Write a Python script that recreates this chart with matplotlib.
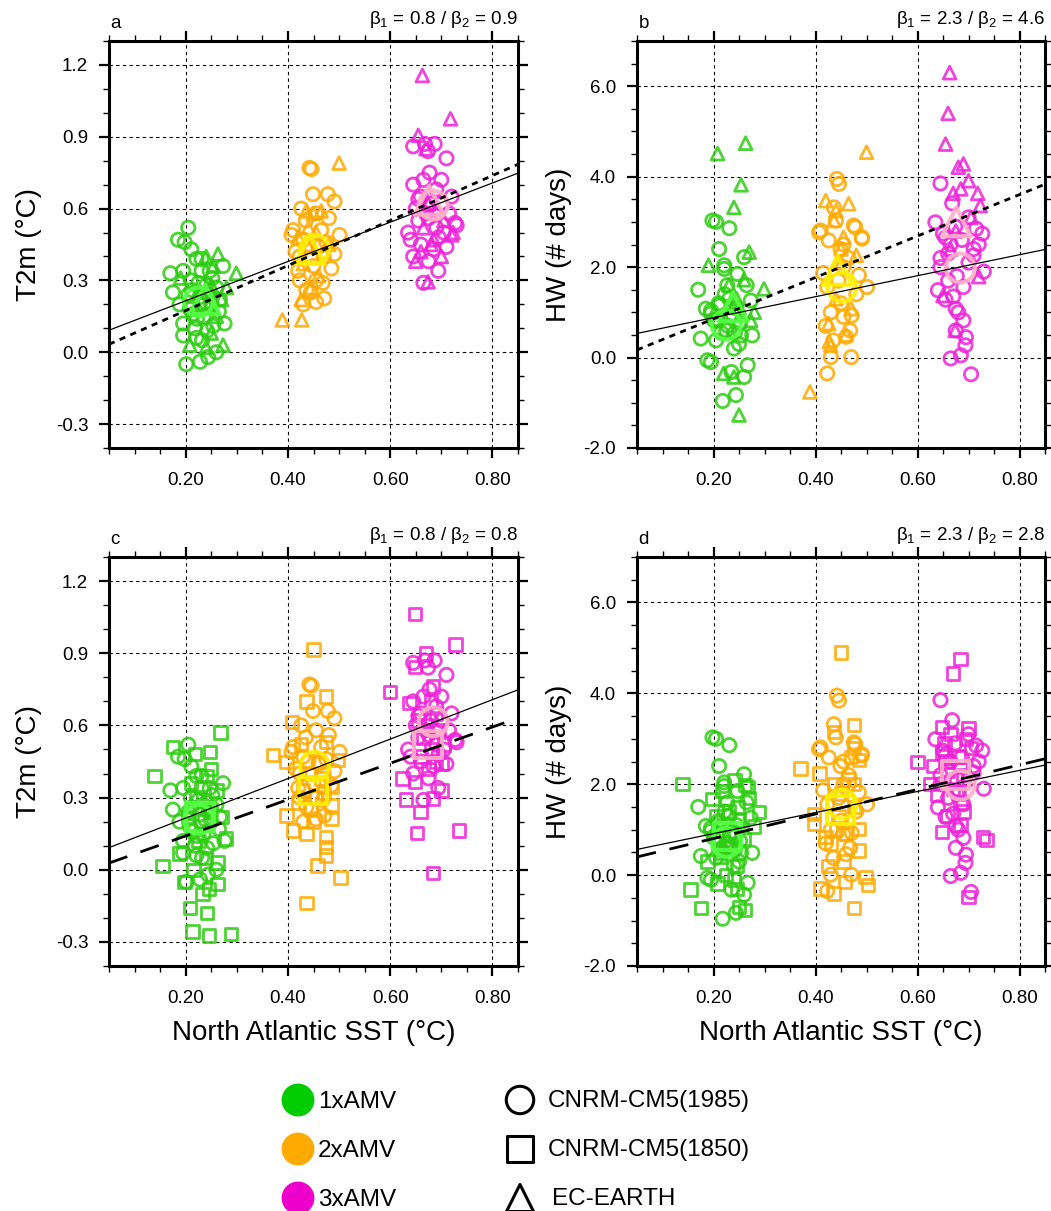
import matplotlib
matplotlib.use('Agg')
import matplotlib.pyplot as plt
import numpy as np
from matplotlib.ticker import MultipleLocator, FormatStrFormatter

plt.rcParams['font.family'] = ['Liberation Sans', 'DejaVu Sans']
plt.rcParams['mathtext.fontset'] = 'custom'
plt.rcParams['mathtext.rm'] = 'Liberation Sans'
plt.rcParams['mathtext.it'] = 'Liberation Sans:italic'

# ---------------- data ----------------
# CNRM-CM5(1985) members (circles): SST, T2m, HW
sst_c85_1 = [0.205, 0.185, 0.198, 0.211, 0.221, 0.231, 0.195, 0.231, 0.247, 0.273,
             0.175, 0.188, 0.227, 0.267, 0.195, 0.276, 0.195, 0.221, 0.201, 0.228,
             0.244, 0.260, 0.254, 0.215, 0.240, 0.210, 0.250, 0.235, 0.205, 0.260,
             0.218, 0.245, 0.170, 0.225, 0.265, 0.232, 0.212, 0.238, 0.252, 0.222,
             0.242, 0.208]
t2m_c85_1 = [0.52, 0.47, 0.46, 0.43, 0.39, 0.39, 0.34, 0.34, 0.34, 0.36,
             0.25, 0.20, 0.23, 0.22, 0.12, 0.12, 0.07, 0.06, -0.05, -0.04,
             -0.02, 0.00, 0.11, 0.16, 0.28, 0.30, 0.20, 0.15, 0.24, 0.27,
             0.10, 0.24, 0.33, 0.29, 0.17, 0.05, 0.26, 0.21, 0.31, 0.14,
             0.09, 0.18]
hw_c85_1 = [3.00, 1.08, 3.03, 2.40, 2.04, 2.86, 0.97, 1.30, 1.85, 1.26,
            0.42, -0.06, 1.60, -0.17, -0.10, 0.49, 1.04, 1.96, 0.82, 0.70,
            -0.83, 2.22, 0.49, 0.55, 0.20, 1.20, 0.30, -0.32, 0.38, -0.43,
            -0.96, 1.10, 1.50, 0.60, 1.60, 0.90, 1.15, 0.95, 0.75, 1.40,
            0.55, 0.85]

sst_c85_2 = [0.442, 0.446, 0.449, 0.478, 0.491, 0.426, 0.410, 0.465, 0.407, 0.501,
             0.491, 0.423, 0.423, 0.455, 0.468, 0.436, 0.471, 0.455, 0.430, 0.440,
             0.460, 0.475, 0.415, 0.450, 0.485, 0.435, 0.455, 0.470, 0.420, 0.445,
             0.480, 0.430]
t2m_c85_2 = [0.77, 0.765, 0.66, 0.66, 0.63, 0.60, 0.51, 0.51, 0.49, 0.49,
             0.41, 0.40, 0.30, 0.30, 0.29, 0.26, 0.225, 0.21, 0.20, 0.45,
             0.44, 0.46, 0.42, 0.36, 0.35, 0.55, 0.58, 0.40, 0.34, 0.25,
             0.56, 0.47]
hw_c85_2 = [3.95, 3.84, 2.40, 2.88, 2.66, 2.59, 2.81, 2.20, 2.77, 1.56,
            2.63, -0.35, 1.56, 2.00, 0.60, 3.32, 0.93, 0.90, 1.00, 3.03,
            0.46, 2.92, 1.87, 1.20, 1.82, 0.38, 2.50, 0.01, 0.70, 1.70,
            1.40, 0.01]

sst_c85_3 = [0.645, 0.668, 0.687, 0.710, 0.674, 0.677, 0.645, 0.727, 0.635, 0.640,
             0.730, 0.694, 0.665, 0.660, 0.690, 0.700, 0.650, 0.675, 0.705, 0.660,
             0.685, 0.710, 0.645, 0.675, 0.700, 0.655, 0.720, 0.680, 0.690, 0.665,
             0.670, 0.695, 0.655, 0.715]
t2m_c85_3 = [0.86, 0.87, 0.87, 0.81, 0.84, 0.75, 0.70, 0.54, 0.50, 0.47,
             0.53, 0.34, 0.29, 0.65, 0.68, 0.62, 0.60, 0.56, 0.50, 0.45,
             0.43, 0.44, 0.40, 0.38, 0.72, 0.55, 0.65, 0.62, 0.52, 0.72,
             0.58, 0.48, 0.64, 0.58]
hw_c85_3 = [3.85, 3.41, 2.60, 2.26, 2.90, 1.80, 2.00, 2.74, 2.99, 1.49,
            1.90, 0.27, -0.02, 2.30, 1.56, 3.10, 2.74, 1.08, -0.37, 1.70,
            0.05, 2.40, 2.20, 0.60, 2.10, 1.28, 2.50, 1.00, 0.82, 2.50,
            1.35, 0.45, 2.65, 2.85]

# EC-EARTH members (triangles)
sst_ec_1 = [0.263, 0.299, 0.240, 0.254, 0.250, 0.273, 0.208, 0.240, 0.230, 0.250,
            0.270, 0.220, 0.260, 0.245, 0.280, 0.190]
t2m_ec_1 = [0.41, 0.33, 0.40, 0.36, 0.08, 0.03, 0.03, 0.02, 0.25, 0.28,
            0.22, 0.18, 0.15, 0.19, 0.27, 0.31]
hw_ec_1 = [4.74, 1.52, 3.32, 3.82, -1.27, 0.82, 4.51, -0.43, 1.60, 1.10,
           2.33, -0.35, 1.72, 1.30, 1.00, 2.04]

sst_ec_2 = [0.500, 0.436, 0.465, 0.450, 0.389, 0.427, 0.426, 0.440, 0.455, 0.470,
            0.430, 0.460, 0.445, 0.480, 0.420, 0.440]
t2m_ec_2 = [0.79, 0.59, 0.59, 0.58, 0.135, 0.135, 0.22, 0.44, 0.50, 0.42,
            0.37, 0.32, 0.27, 0.45, 0.48, 0.52]
hw_ec_2 = [4.54, 3.03, 3.40, 2.40, -0.76, 0.35, 0.75, 1.30, 2.66, 1.08,
           0.27, 0.50, 2.11, 2.26, 3.47, 3.25]

sst_ec_3 = [0.663, 0.718, 0.655, 0.723, 0.720, 0.674, 0.660, 0.680, 0.700, 0.650,
            0.690, 0.675, 0.670, 0.685, 0.705, 0.665]
t2m_ec_3 = [1.156, 0.975, 0.906, 0.50, 0.49, 0.294, 0.42, 0.45, 0.40, 0.38,
            0.60, 0.62, 0.85, 0.47, 0.55, 0.52]
hw_ec_3 = [6.30, 3.63, 4.72, 3.36, 1.79, 0.60, 5.40, 4.21, 3.91, 1.37,
           4.28, 2.80, 3.63, 3.73, 3.10, 2.40]

# CNRM-CM5(1850) members (squares)
sst_c50_1 = [0.268, 0.175, 0.218, 0.247, 0.139, 0.155, 0.188, 0.198, 0.233, 0.246,
             0.262, 0.208, 0.242, 0.213, 0.246, 0.289, 0.279, 0.262, 0.241, 0.220,
             0.250, 0.230, 0.260, 0.210, 0.225, 0.205, 0.240, 0.270, 0.215, 0.250]
t2m_c50_1 = [0.57, 0.51, 0.48, 0.49, 0.39, 0.015, 0.067, -0.05, -0.10, -0.08,
             -0.06, -0.16, -0.18, -0.256, -0.274, -0.267, 0.13, 0.03, 0.39, 0.30,
             0.25, 0.20, 0.33, 0.36, 0.12, 0.22, 0.05, 0.22, 0.00, 0.42]
hw_c50_1 = [1.94, -0.73, 1.85, 1.50, 2.01, -0.32, 0.30, 1.68, 0.60, -0.30,
            1.98, -0.18, 0.90, 0.40, 0.20, 1.39, 1.07, -0.77, 2.09, 1.10,
            -0.70, 1.40, 0.80, 0.70, 0.00, 1.30, -0.10, 1.70, 0.50, 1.20]

sst_c50_2 = [0.450, 0.475, 0.436, 0.408, 0.371, 0.397, 0.475, 0.498, 0.485, 0.485,
             0.397, 0.410, 0.436, 0.475, 0.485, 0.475, 0.475, 0.458, 0.503, 0.436,
             0.440, 0.455, 0.430, 0.465, 0.445, 0.420, 0.460, 0.425, 0.450, 0.470]
t2m_c50_2 = [0.915, 0.72, 0.70, 0.615, 0.476, 0.449, 0.53, 0.456, 0.344, 0.268,
             0.226, 0.164, 0.15, 0.136, 0.212, 0.094, 0.06, 0.018, -0.033, -0.139,
             0.40, 0.30, 0.33, 0.38, 0.25, 0.28, 0.45, 0.52, 0.20, 0.32]
hw_c50_2 = [4.90, 3.30, 3.15, 2.24, 2.35, 1.35, 2.00, -0.04, 2.53, 0.54,
            1.13, -0.29, 2.01, -0.72, 1.02, 1.50, 2.80, -0.15, -0.22, -0.40,
            1.00, 0.30, 0.70, 2.10, 1.30, 0.84, 0.90, 0.20, 1.80, 2.60]

sst_c50_3 = [0.648, 0.728, 0.670, 0.648, 0.684, 0.600, 0.638, 0.624, 0.648, 0.631,
             0.659, 0.684, 0.700, 0.653, 0.735, 0.684, 0.665, 0.680, 0.690, 0.670,
             0.695, 0.660, 0.705, 0.675, 0.690, 0.655, 0.700, 0.680]
t2m_c50_3 = [1.063, 0.937, 0.899, 0.843, 0.761, 0.74, 0.694, 0.379, 0.365, 0.292,
             0.24, 0.296, 0.33, 0.153, 0.164, -0.014, 0.55, 0.50, 0.45, 0.60,
             0.58, 0.47, 0.52, 0.42, 0.65, 0.62, 0.44, 0.70]
hw_c50_3 = [3.26, 0.84, 4.44, 2.70, 4.75, 2.49, 1.76, 2.00, 0.95, 2.40,
            1.30, 1.60, 3.23, 2.90, 0.77, 1.10, 3.10, 2.60, 2.20, 1.90,
            3.00, 2.30, 2.80, 2.10, 1.40, 2.50, -0.48, 1.80]

# ensemble means (big markers), per forcing level 1x/2x/3x
mean_sst_c85 = [0.225, 0.452, 0.684]
mean_t2m_c85 = [0.21, 0.43, 0.615]
mean_hw_c85 = [0.72, 1.56, 1.98]
mean_sst_ec = [0.238, 0.443, 0.676]
mean_t2m_ec = [0.22, 0.43, 0.635]
mean_hw_ec = [1.12, 1.93, 3.00]
mean_sst_c50 = [0.228, 0.449, 0.674]
mean_t2m_c50 = [0.22, 0.33, 0.52]
mean_hw_c50 = [0.85, 1.43, 2.20]

# regression lines (intercept, slope): solid = beta1, dashed = beta2
fit1_icpt = [0.051, 0.418, 0.051, 0.449]
fit1_slope = [0.82, 2.32, 0.82, 2.32]
fit2_icpt = [-0.014, -0.06, -0.010, 0.265]
fit2_slope = [0.94, 4.58, 0.754, 2.70]

panel_letters = ['a', 'b', 'c', 'd']
panel_titles = [r'β$_1$ = 0.8 / β$_2$ = 0.9', r'β$_1$ = 2.3 / β$_2$ = 4.6',
                r'β$_1$ = 0.8 / β$_2$ = 0.8', r'β$_1$ = 2.3 / β$_2$ = 2.8']
group_names = ['1xAMV', '2xAMV', '3xAMV']
model_names = ['CNRM-CM5(1985)', 'CNRM-CM5(1850)', 'EC-EARTH']

grp_col = ['#2ccc10', '#ffaa00', '#ee22d8']
leg_col = ['#00cc00', '#ffaa00', '#ee00cc']
mean_col = ['#55ff44', '#ffee00', '#ffb0c8']

c85_sst = [sst_c85_1, sst_c85_2, sst_c85_3]
c85_t2m = [t2m_c85_1, t2m_c85_2, t2m_c85_3]
c85_hw = [hw_c85_1, hw_c85_2, hw_c85_3]
ec_sst = [sst_ec_1, sst_ec_2, sst_ec_3]
ec_t2m = [t2m_ec_1, t2m_ec_2, t2m_ec_3]
ec_hw = [hw_ec_1, hw_ec_2, hw_ec_3]
c50_sst = [sst_c50_1, sst_c50_2, sst_c50_3]
c50_t2m = [t2m_c50_1, t2m_c50_2, t2m_c50_3]
c50_hw = [hw_c50_1, hw_c50_2, hw_c50_3]

fig = plt.figure(figsize=(10.51, 12.11), dpi=100)
W, H = 1051.0, 1211.0
pos = [[109, 448], [637, 448], [109, 966], [637, 966]]
heights = [407, 407, 409, 409]
widths = [409, 408, 409, 408]

xx = np.array([0.05, 0.85])

for i in range(4):
    l, b = pos[i]
    ax = fig.add_axes([l / W, (H - b) / H, widths[i] / W, heights[i] / H])
    t2m_panel = (i % 2 == 0)
    second = 'ec' if i < 2 else 'c50'

    for g in range(3):
        yc = c85_t2m[g] if t2m_panel else c85_hw[g]
        ax.scatter(c85_sst[g], yc, s=92, marker='o', facecolors='none',
                   edgecolors=grp_col[g], linewidths=2.0, alpha=0.85, zorder=3)
        if second == 'ec':
            y2 = ec_t2m[g] if t2m_panel else ec_hw[g]
            ax.scatter(ec_sst[g], y2, s=85, marker='^', facecolors='none',
                       edgecolors=grp_col[g], linewidths=2.0, alpha=0.85, zorder=3)
        else:
            y2 = c50_t2m[g] if t2m_panel else c50_hw[g]
            ax.scatter(c50_sst[g], y2, s=80, marker='s', facecolors='none',
                       edgecolors=grp_col[g], linewidths=2.0, alpha=0.85, zorder=3)

    # ensemble means
    for g in range(3):
        ym = mean_t2m_c85[g] if t2m_panel else mean_hw_c85[g]
        ax.scatter([mean_sst_c85[g]], [ym], s=430, marker='o', facecolors='none',
                   edgecolors=mean_col[g], linewidths=3, alpha=0.9, zorder=4)
        if second == 'ec':
            ym2 = mean_t2m_ec[g] if t2m_panel else mean_hw_ec[g]
            ax.scatter([mean_sst_ec[g]], [ym2], s=430, marker='^', facecolors='none',
                       edgecolors=mean_col[g], linewidths=3, alpha=0.9, zorder=4)
        else:
            ym2 = mean_t2m_c50[g] if t2m_panel else mean_hw_c50[g]
            ax.scatter([mean_sst_c50[g]], [ym2], s=390, marker='s', facecolors='none',
                       edgecolors=mean_col[g], linewidths=3, alpha=0.9, zorder=4)

    # regression lines
    ax.plot(xx, fit1_icpt[i] + fit1_slope[i] * xx, color='black', lw=0.9, zorder=5)
    if i < 2:
        ax.plot(xx, fit2_icpt[i] + fit2_slope[i] * xx, color='black', lw=2.0,
                linestyle=(0, (2.2, 2.0)), zorder=5)
    else:
        ax.plot(xx, fit2_icpt[i] + fit2_slope[i] * xx, color='black', lw=2.0,
                linestyle=(0, (7, 5)), zorder=5)

    ax.set_xlim(0.05, 0.85)
    ax.xaxis.set_major_locator(MultipleLocator(0.2))
    ax.xaxis.set_minor_locator(MultipleLocator(0.05))
    ax.xaxis.set_major_formatter(FormatStrFormatter('%.2f'))
    if t2m_panel:
        ax.set_ylim(-0.4, 1.3)
        ax.yaxis.set_major_locator(MultipleLocator(0.3))
        ax.yaxis.set_minor_locator(MultipleLocator(0.1))
        ax.set_ylabel('T2m (°C)', fontsize=20, labelpad=10)
    else:
        ax.set_ylabel('HW (# days)', fontsize=20, labelpad=8)
        ax.set_ylim(-2.0, 7.0)
        ax.yaxis.set_major_locator(MultipleLocator(2.0))
        ax.yaxis.set_minor_locator(MultipleLocator(0.5))
    ax.yaxis.set_major_formatter(FormatStrFormatter('%.1f'))

    ax.grid(True, which='major', color='black', linestyle=(0, (3, 3)), linewidth=0.8)
    ax.set_axisbelow(True)
    for sp in ax.spines.values():
        sp.set_linewidth(2.2)
    ax.tick_params(which='both', direction='out', top=True, right=True,
                   labeltop=False, labelright=False)
    ax.tick_params(which='major', length=7, width=1.6, labelsize=13.5)
    ax.tick_params(which='minor', length=4, width=1.0)
    ax.tick_params(axis='x', which='major', pad=10)
    ax.tick_params(axis='y', which='major', pad=8)

    if i >= 2:
        ax.set_xlabel('North Atlantic SST (°C)', fontsize=20, labelpad=10)

    ax.annotate(panel_letters[i], xy=(0, 1), xycoords='axes fraction',
                xytext=(1, 9), textcoords='offset points', ha='left', va='baseline',
                fontsize=13.5)
    ax.annotate(panel_titles[i], xy=(1, 1), xycoords='axes fraction',
                xytext=(0, 12), textcoords='offset points', ha='right', va='baseline',
                fontsize=13.5)

# ---------------- legend ----------------
lax = fig.add_axes([0, 0, 1, 1], zorder=-1)
lax.set_xlim(0, W)
lax.set_ylim(H, 0)
lax.axis('off')
rows = [1100, 1149, 1198]
for g in range(3):
    lax.scatter([298], [rows[g]], s=560, marker='o', color=leg_col[g], edgecolors='none')
    lax.text(318, rows[g] + 2, group_names[g], fontsize=17.5, va='center', ha='left')
shape = ['o', 's', '^']
shape_s = [390, 340, 380]
for k in range(3):
    lax.scatter([520], [rows[k]], s=shape_s[k], marker=shape[k], facecolors='none',
                edgecolors='black', linewidths=2.2)
    lax.text(548 if k < 2 else 552, rows[k] + 1, model_names[k], fontsize=17.5,
             va='center', ha='left')

fig.savefig('out.png', dpi=100)
